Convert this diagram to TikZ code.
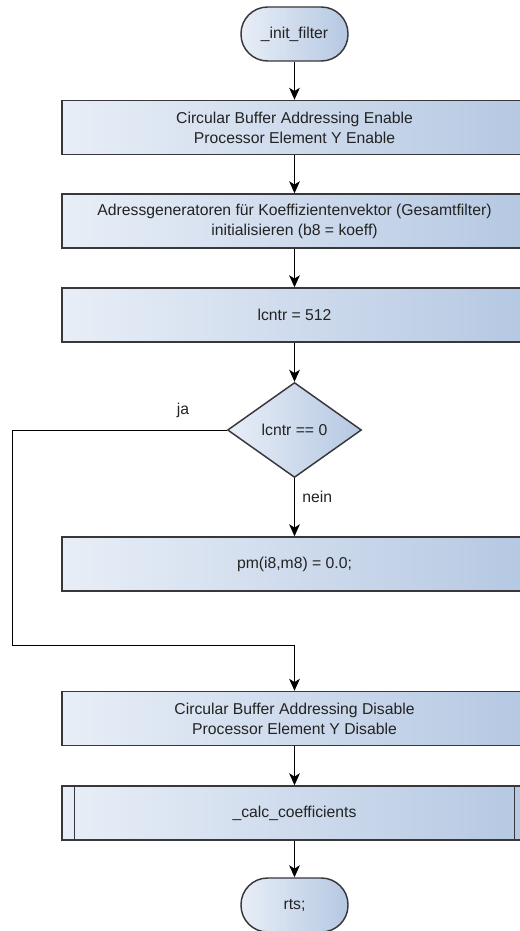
\documentclass[tikz,border=0pt]{standalone}
\usepackage{fontspec}
\setmainfont{Liberation Sans}
\usetikzlibrary{arrows.meta,shapes.geometric}
\definecolor{fillL}{RGB}{232,238,247}
\definecolor{fillR}{RGB}{181,200,226}
\definecolor{edgec}{RGB}{55,55,60}
\definecolor{txtc}{RGB}{35,35,35}
\begin{document}
\begin{tikzpicture}[x=0.75pt,y=-0.75pt,
  font=\fontsize{11.8}{15}\selectfont, text=txtc,
  base/.style={draw=edgec, line width=1.1pt, left color=fillL, right color=fillR, align=center, inner sep=0pt},
  procbox/.style={base, rectangle, minimum width=348.75pt, minimum height=40.5pt},
  termbox/.style={base, rectangle, rounded corners=20pt, minimum width=80.25pt, minimum height=40.5pt},
  decbox/.style={base, diamond, minimum width=100.5pt, minimum height=71.25pt, aspect=1.41},
  arr/.style={draw=black, line width=0.75pt, -{Stealth[length=9pt,width=8pt,inset=2.5pt]}},
  lbl/.style={text=txtc, inner sep=0pt}]
\useasboundingbox (0,0) rectangle (520,931);
\clip (0,0) rectangle (520,931);
\fill[white] (0,0) rectangle (520,931);

\node[termbox] (start) at (294.5,34) {\_init\_filter};
\node[procbox] (b1) at (294.5,127.5) {Circular Buffer Addressing Enable\\Processor Element Y Enable};
\node[procbox] (b2) at (294.5,221) {Adressgeneratoren für Koeffizientenvektor (Gesamtfilter)\\initialisieren (b8 = koeff)};
\node[procbox] (b3) at (294.5,315) {lcntr = 512};
\node[decbox] (dia) at (294.5,430) {lcntr == 0};
\node[procbox] (b4) at (294.5,564) {pm(i8,m8) = 0.0;};
\node[procbox] (b5) at (294.5,718.5) {Circular Buffer Addressing Disable\\Processor Element Y Disable};
\node[procbox] (b6) at (294.5,813) {\_calc\_coefficients};
\draw[edgec, line width=1.1pt] ([xshift=9.75pt]b6.north west) -- ([xshift=9.75pt]b6.south west);
\draw[edgec, line width=1.1pt] ([xshift=-9.75pt]b6.north east) -- ([xshift=-9.75pt]b6.south east);
\node[termbox] (end) at (294.5,905) {rts;};

\coordinate (c1) at (12,430);
\coordinate (c2) at (12,645);

\draw[arr] (start) -- (b1);
\draw[arr] (b1) -- (b2);
\draw[arr] (b2) -- (b3);
\draw[arr] (b3) -- (dia);
\draw[arr] (dia.south) -- (b4.north);
\draw[arr] (dia.west) -- (c1) -- (c2) -| (b5.north);
\draw[arr] (b5) -- (b6);
\draw[arr] (b6) -- (end);

\node[lbl] (ja) at (183,410) {ja};
\node[lbl, anchor=west] (nein) at (302,497) {nein};
\end{tikzpicture}
\end{document}
